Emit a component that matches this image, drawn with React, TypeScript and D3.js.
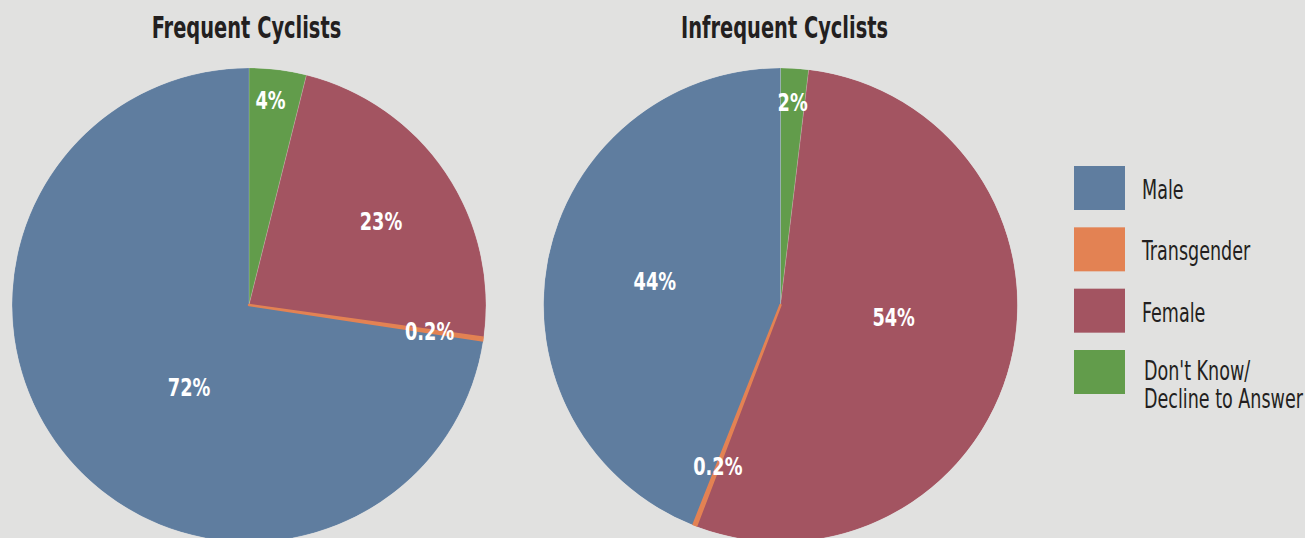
import React from "react";
import * as d3 from "d3";

const categories = ["Don't Know/ Decline to Answer", "Female", "Transgender", "Male"];
const frequentValues = [3.9, 23.3, 0.2, 72.6];
const infrequentValues = [1.9, 53.9, 0.2, 44.0];
const frequentLabels = ["4%", "23%", "0.2%", "72%"];
const infrequentLabels = ["2%", "54%", "0.2%", "44%"];
const titles = ["Frequent Cyclists", "Infrequent Cyclists"];
const legendOrder = ["Male", "Transgender", "Female", "Don't Know/ Decline to Answer"];
const legendText = [["Male"], ["Transgender"], ["Female"], ["Don't Know/", "Decline to Answer"]];

const colors: Record<string, string> = {
  Male: "#5F7D9F",
  Transgender: "#E38253",
  Female: "#A35461",
  "Don't Know/ Decline to Answer": "#629C4B",
};

// label placement: radius fraction and optional angle override (degrees clockwise from top)
const labelLayout = [
  [{ f: 0.87, a: 6 }, { f: 0.66, a: 57.5 }, { f: 0.77 }, { f: 0.43, a: 216 }],
  [{ f: 0.86 }, { f: 0.48, a: 96 }, { f: 0.73 }, { f: 0.54 }],
];

const W = 1305;
const H = 538;
const FONT = "'DejaVu Sans Condensed', 'DejaVu Sans', sans-serif";

function SText(props: {
  x: number;
  y: number;
  sx: number;
  size: number;
  bold?: boolean;
  fill: string;
  anchor?: string;
  children: React.ReactNode;
}) {
  return (
    <text
      transform={`translate(${props.x},${props.y}) scale(${props.sx},1)`}
      fontSize={props.size}
      fontWeight={props.bold ? "bold" : "normal"}
      fill={props.fill}
      textAnchor={props.anchor || "start"}
    >
      {props.children}
    </text>
  );
}

export default function App() {
  const radius = 237;
  const centers = [
    { x: 249, y: 305 },
    { x: 780.5, y: 305 },
  ];
  const datasets = [
    { values: frequentValues, labels: frequentLabels },
    { values: infrequentValues, labels: infrequentLabels },
  ];
  const titleX = [246.5, 784.5];
  const pie = d3
    .pie<number>()
    .sort(null)
    .value((d) => d)
    .startAngle(0)
    .endAngle(2 * Math.PI);
  const arc = d3.arc<d3.PieArcDatum<number>>().innerRadius(0).outerRadius(radius);

  const legendY = d3.scalePoint<string>().domain(legendOrder).range([188, 372]);

  return (
    <svg
      width={W}
      height={H}
      style={{ position: "absolute", left: 0, top: 0, background: "#E1E1E0" }}
      fontFamily={FONT}
    >
      <defs>
        <clipPath id="pieClip">
          <circle cx={0} cy={0} r={radius} />
        </clipPath>
      </defs>
      <rect x={0} y={0} width={W} height={H} fill="#E1E1E0" />
      {datasets.map((ds, pi) => {
        const arcs = pie(ds.values);
        const c = centers[pi];
        const order = arcs.map((_, i) => i).sort((a, b) =>
          (categories[a] === "Transgender" ? 1 : 0) - (categories[b] === "Transgender" ? 1 : 0)
        );
        return (
          <g key={pi}>
            <SText x={titleX[pi]} y={38} sx={0.72} size={30} bold fill="#231F20" anchor="middle">
              {titles[pi]}
            </SText>
            <g transform={`translate(${c.x},${c.y})`}>
              <g clipPath="url(#pieClip)">
                {order.map((i) => {
                  const a = arcs[i];
                  const isT = categories[i] === "Transgender";
                  return (
                    <path
                      key={i}
                      d={arc(a) || ""}
                      fill={colors[categories[i]]}
                      stroke={isT ? colors[categories[i]] : "#ffffff"}
                      strokeOpacity={isT ? 1 : 0.25}
                      strokeWidth={isT ? 2.4 : 0.6}
                      strokeLinejoin="round"
                    />
                  );
                })}
              </g>
              {arcs.map((a, i) => {
                const lay = labelLayout[pi][i] as { f: number; a?: number };
                const ang =
                  lay.a !== undefined ? (lay.a * Math.PI) / 180 : (a.startAngle + a.endAngle) / 2;
                const r = radius * lay.f;
                const x = Math.sin(ang) * r;
                const y = -Math.cos(ang) * r;
                return (
                  <SText
                    key={"l" + i}
                    x={x}
                    y={y + 9}
                    sx={0.79}
                    size={25}
                    bold
                    fill="#ffffff"
                    anchor="middle"
                  >
                    {ds.labels[i]}
                  </SText>
                );
              })}
            </g>
          </g>
        );
      })}
      <g>
        {legendOrder.map((k, i) => {
          const y = legendY(k) as number;
          const lines = legendText[i];
          return (
            <g key={k}>
              <rect x={1074} y={y - 22} width={51} height={44} fill={colors[k]} />
              {lines.map((t, j) => (
                <SText
                  key={j}
                  x={1142 + (lines.length > 1 ? 2 : 0)}
                  y={lines.length > 1 ? y + 8 + j * 28 : y + 11}
                  sx={0.75}
                  size={26}
                  fill="#231F20"
                >
                  {t}
                </SText>
              ))}
            </g>
          );
        })}
      </g>
    </svg>
  );
}
